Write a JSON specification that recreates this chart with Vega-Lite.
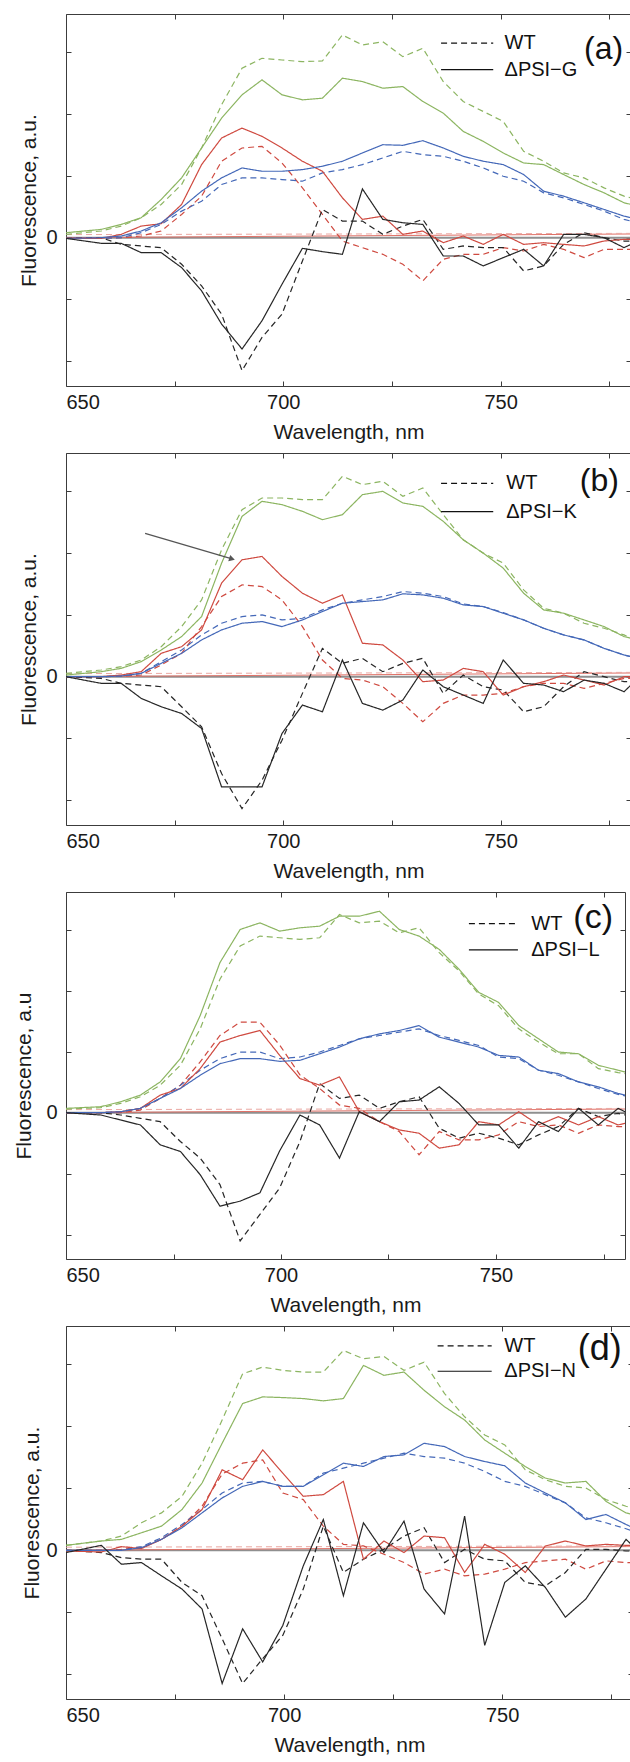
{
"$schema": "https://vega.github.io/schema/vega-lite/v6.json",
"padding": {"left": 12, "top": 13, "right": 0, "bottom": 0},
"spacing": 9,
"background": "white",
"config": {
 "font": "Liberation Sans",
 "view": {"stroke": "#3c3c3c", "strokeWidth": 1},
 "axis": {"grid": false, "domain": false, "tickSize": -5, "tickColor": "#3c3c3c", "tickWidth": 1, "labelFont": "Liberation Sans", "labelFontSize": 20, "labelColor": "#1a1a1a", "titleFont": "Liberation Sans", "titleFontSize": 21, "titleFontWeight": "normal", "titleColor": "#1a1a1a"},
 "text": {"font": "Liberation Sans"}
},
"datasets": {
 "base": [
  {"c": "zr", "t": "M", "x": 650, "y": 0.0},
  {"c": "zr", "t": "M", "x": 780, "y": 0.06},
  {"c": "zp", "t": "W", "x": 650, "y": 0.05},
  {"c": "zp", "t": "W", "x": 780, "y": 0.07}
 ],
 "curves": [
  {"p":"a","t":"W","x":[650,658.1,662.7,667.3,671.9,676.6,681.2,685.8,690.5,695.1,699.7,704.4,709,713.6,718.2,722.9,727.5,732.1,736.8,741.4,746,750.6,755.3,759.9,764.5,769.2,773.8,778.4,780],
   "g":[0.054,0.108,0.188,0.323,0.538,0.860,1.452,2.151,2.742,2.903,2.876,2.849,2.860,3.280,3.118,3.172,2.930,3.065,2.527,2.204,2.043,1.882,1.398,1.237,1.048,0.968,0.806,0.672,0.645],
   "r":[-0.011,-0.011,0,0.027,0.108,0.376,0.672,1.237,1.452,1.478,1.210,0.806,0.376,-0.054,-0.161,-0.269,-0.430,-0.699,-0.349,-0.269,-0.269,-0.161,-0.215,-0.108,-0.188,-0.323,-0.188,-0.188,-0.188],
   "b":[-0.011,-0.011,0,0.081,0.215,0.430,0.591,0.860,0.968,0.968,0.941,0.914,1.048,1.102,1.183,1.290,1.398,1.344,1.317,1.237,1.129,0.995,0.914,0.726,0.645,0.538,0.430,0.296,0.269],
   "k":[-0.011,0,-0.108,-0.134,-0.161,-0.430,-0.780,-1.237,-2.151,-1.613,-1.237,-0.376,0.457,0.269,0.269,0.054,0.188,0.296,-0.188,-0.134,-0.161,-0.161,-0.538,-0.457,-0.108,0.081,0,-0.054,-0.054]},
  {"p":"a","t":"M","x":[650,658.1,662.7,667.3,671.9,676.6,681.2,685.8,690.5,695.1,699.7,704.4,709,713.6,718.2,722.9,727.5,732.1,736.8,741.4,746,750.6,755.3,759.9,764.5,769.2,773.8,778.4,780],
   "g":[0.081,0.134,0.215,0.323,0.618,0.968,1.452,1.935,2.312,2.554,2.312,2.231,2.258,2.581,2.527,2.419,2.446,2.204,2.016,1.720,1.559,1.371,1.209,1.183,1.022,0.860,0.726,0.565,0.538],
   "r":[-0.011,-0.011,0.054,0.188,0.226,0.538,1.183,1.613,1.774,1.640,1.452,1.237,1.075,0.645,0.296,0.349,0.054,0.108,-0.081,0.027,-0.108,0.054,-0.108,-0.081,-0.108,-0.134,-0.054,-0.027,-0.027],
   "b":[-0.011,0,0.027,0.108,0.242,0.484,0.753,0.968,1.129,1.075,1.075,1.102,1.156,1.237,1.371,1.505,1.495,1.570,1.452,1.317,1.237,1.183,1.022,0.753,0.672,0.565,0.457,0.349,0.323],
   "k":[-0.011,-0.091,-0.091,-0.242,-0.242,-0.484,-0.860,-1.398,-1.801,-1.344,-0.753,-0.172,-0.226,-0.269,0.790,0.296,0.242,0.215,-0.296,-0.296,-0.457,-0.323,-0.188,-0.457,0.054,0.054,0,-0.161,-0.108]},
  {"p":"b","t":"W","x":[650,658.1,662.7,667.3,671.9,676.6,681.2,685.8,690.5,695.1,699.7,704.4,709,713.6,718.2,722.9,727.5,732.1,736.8,741.4,746,750.6,755.3,759.9,764.5,769.2,773.8,778.4,780],
   "g":[0.054,0.108,0.162,0.270,0.486,0.811,1.243,2.054,2.703,2.892,2.892,2.865,2.865,3.243,3.108,3.162,2.919,3.054,2.622,2.216,2.000,1.838,1.405,1.108,1.027,0.865,0.784,0.676,0.622],
   "r":[0,0,0.011,0.027,0.189,0.378,0.811,1.297,1.486,1.459,1.243,0.811,0.270,-0.027,-0.054,-0.162,-0.432,-0.730,-0.432,-0.297,-0.297,-0.270,-0.162,-0.108,-0.108,-0.189,-0.108,-0.027,-0.027],
   "b":[0,0,0.011,0.054,0.243,0.432,0.676,0.865,0.973,1.000,0.919,0.946,1.081,1.189,1.243,1.297,1.378,1.351,1.297,1.178,1.135,1.038,0.919,0.784,0.676,0.595,0.459,0.351,0.324],
   "k":[0,-0.027,-0.108,-0.135,-0.162,-0.486,-0.811,-1.568,-2.135,-1.676,-1.027,-0.270,0.459,0.216,0.297,0.081,0.216,0.297,-0.270,0.027,-0.162,-0.216,-0.568,-0.486,-0.162,0.081,0,-0.081,-0.081]},
  {"p":"b","t":"M","x":[650,658.1,662.7,667.3,671.9,676.6,681.2,685.8,690.5,695.1,699.7,704.4,709,713.6,718.2,722.9,727.5,732.1,736.8,741.4,746,750.6,755.3,759.9,764.5,769.2,773.8,778.4,780],
   "g":[0.027,0.081,0.135,0.243,0.432,0.649,0.973,1.838,2.595,2.838,2.784,2.676,2.541,2.622,2.946,3.000,2.811,2.757,2.514,2.216,2.000,1.757,1.351,1.081,1.027,0.919,0.811,0.649,0.622],
   "r":[0,0,0.027,0.081,0.378,0.486,0.757,1.514,1.892,1.946,1.622,1.351,1.189,1.324,0.541,0.514,0.270,-0.081,-0.054,0.135,0.081,-0.297,-0.162,-0.081,0.027,-0.054,-0.135,0,0],
   "b":[0,0,0.011,0.054,0.216,0.378,0.595,0.757,0.865,0.892,0.811,0.919,1.054,1.189,1.216,1.243,1.341,1.324,1.270,1.162,1.135,1.027,0.919,0.784,0.676,0.595,0.459,0.351,0.324],
   "k":[0,-0.108,-0.108,-0.351,-0.486,-0.595,-0.838,-1.784,-1.784,-1.784,-0.919,-0.459,-0.568,0.270,-0.432,-0.541,-0.378,0.108,-0.162,-0.297,-0.432,0.270,-0.108,-0.135,-0.243,-0.054,-0.108,-0.243,-0.135]},
  {"p":"c","t":"W","x":[650,658.1,662.7,667.3,671.9,676.6,681.2,685.8,690.5,695.1,699.7,704.4,709,713.6,718.2,722.9,727.5,732.1,736.8,741.4,746,750.6,755.3,759.9,764.5,769.2,773.8,778.4,780],
   "g":[0.060,0.082,0.152,0.261,0.451,0.777,1.375,2.190,2.734,2.897,2.870,2.842,2.870,3.250,3.114,3.141,2.951,3.033,2.625,2.326,1.946,1.755,1.375,1.158,0.967,0.967,0.723,0.658,0.641],
   "r":[0,0,0,0.043,0.234,0.451,0.832,1.266,1.484,1.484,1.109,0.620,0.397,0.125,0.071,-0.147,-0.310,-0.690,-0.310,-0.446,-0.446,-0.364,-0.147,-0.228,-0.201,-0.337,-0.201,-0.228,-0.228],
   "b":[0,0,0.016,0.071,0.234,0.451,0.696,0.886,0.995,0.995,0.886,0.913,0.995,1.103,1.212,1.266,1.321,1.375,1.266,1.185,1.103,0.913,0.886,0.696,0.614,0.505,0.397,0.299,0.277],
   "k":[0,0,-0.038,-0.092,-0.147,-0.473,-0.745,-1.179,-2.103,-1.668,-1.234,-0.473,0.478,0.234,0.288,0.071,0.179,0.261,-0.255,-0.418,-0.337,-0.418,-0.527,-0.364,-0.228,0.071,-0.065,-0.011,-0.038]},
  {"p":"c","t":"M","x":[650,658.1,662.7,667.3,671.9,676.6,681.2,685.8,690.5,695.1,699.7,704.4,709,713.6,718.2,722.9,727.5,732.1,736.8,741.4,746,750.6,755.3,759.9,764.5,769.2,773.8,778.4,780],
   "g":[0.071,0.098,0.179,0.288,0.505,0.886,1.592,2.462,3.005,3.114,2.978,3.033,3.060,3.223,3.223,3.304,3.005,2.897,2.679,2.353,1.973,1.810,1.429,1.212,0.995,0.967,0.777,0.696,0.668],
   "r":[0,0,0.016,0.071,0.288,0.397,0.723,1.158,1.266,1.348,0.940,0.560,0.452,0.587,0.016,-0.147,-0.283,-0.337,-0.582,-0.527,-0.147,-0.201,0.016,-0.201,-0.065,-0.201,-0.065,-0.201,-0.174],
   "b":[0,0,0.016,0.071,0.234,0.397,0.614,0.804,0.886,0.886,0.842,0.859,0.967,1.076,1.212,1.293,1.348,1.429,1.239,1.158,1.076,0.940,0.913,0.696,0.641,0.505,0.424,0.315,0.288],
   "k":[0,-0.038,-0.120,-0.201,-0.527,-0.636,-1.016,-1.533,-1.451,-1.315,-0.625,-0.038,-0.201,-0.745,0.016,-0.147,0.179,0.207,0.424,0.152,-0.201,-0.201,-0.582,-0.147,-0.310,0.071,-0.201,0.071,0.016]},
  {"p":"d","t":"W","x":[650,658.1,662.7,667.3,671.9,676.6,681.2,685.8,690.5,695.1,699.7,704.4,709,713.6,718.2,722.9,727.5,732.1,736.8,741.4,746,750.6,755.3,759.9,764.5,769.2,773.8,778.4,780],
   "g":[0.080,0.150,0.230,0.444,0.604,0.872,1.406,2.102,2.850,2.957,2.904,2.877,2.877,3.225,3.091,3.128,2.904,3.037,2.529,2.155,1.861,1.701,1.299,1.139,1.032,1.005,0.818,0.711,0.684],
   "r":[0,0,0.016,0.043,0.176,0.390,0.711,1.230,1.406,1.460,0.925,0.818,0.390,0.096,0.070,-0.064,-0.198,-0.385,-0.305,-0.412,-0.385,-0.305,-0.198,-0.171,-0.144,-0.305,-0.171,-0.198,-0.198],
   "b":[0,0,0,0.059,0.203,0.417,0.658,0.925,1.086,1.112,1.032,1.032,1.246,1.326,1.406,1.487,1.567,1.513,1.487,1.406,1.273,1.112,1.032,0.898,0.765,0.524,0.444,0.348,0.310],
   "k":[0,-0.037,-0.118,-0.144,-0.144,-0.519,-0.733,-1.428,-2.150,-1.749,-1.374,-0.626,0.390,-0.358,-0.144,0.016,0.230,0.364,-0.198,0.016,-0.144,-0.171,-0.519,-0.573,-0.358,0.016,0.016,-0.011,-0.011]},
  {"p":"d","t":"M","x":[650,658.1,662.7,667.3,671.9,676.6,681.2,685.8,690.5,695.1,699.7,704.4,709,713.6,718.2,722.9,727.5,732.1,736.8,741.4,746,750.6,755.3,759.9,764.5,769.2,773.8,778.4,780],
   "g":[0.080,0.150,0.176,0.283,0.390,0.658,1.086,1.727,2.369,2.476,2.465,2.449,2.412,2.449,2.984,2.824,2.877,2.583,2.316,2.102,1.781,1.567,1.353,1.166,1.086,1.112,0.791,0.604,0.578],
   "r":[-0.011,-0.027,0.059,0.027,0.176,0.390,0.658,1.299,1.139,1.620,1.246,0.872,0.898,1.112,-0.144,0.150,-0.037,0.230,0.203,-0.358,0.096,-0.064,-0.358,0.070,0.150,0.070,0.096,0.080,0.080],
   "b":[0,0,0,0.043,0.176,0.364,0.604,0.845,1.032,1.112,1.032,1.032,1.219,1.406,1.353,1.513,1.540,1.727,1.674,1.513,1.433,1.364,1.086,0.925,0.765,0.497,0.578,0.417,0.364],
   "k":[-0.037,0.080,-0.225,-0.198,-0.412,-0.626,-0.947,-2.150,-1.267,-1.802,-1.214,-0.251,0.497,-0.733,0.444,-0.037,0.471,-0.626,-1.027,0.551,-1.535,-0.519,-0.251,-0.599,-1.080,-0.786,-0.305,0.176,0.070]}
 ]
},
"vconcat": [
 {
  "width": 565, "height": 372,
  "resolve": {"axis": {"x": "independent", "y": "independent"}},
  "layer": [
   {"data": {"values": [{}]}, "mark": {"type": "rule", "color": "#8f8f8f", "strokeWidth": 2},
    "encoding": {"y": {"datum": 0, "type": "quantitative", "scale": {"domain": [-2.4, 3.62], "nice": false}, "axis": null}}},
   {"data": {"name": "base"}, "mark": {"type": "line", "strokeWidth": 1, "clip": true},
    "encoding": {
     "x": {"field": "x", "type": "quantitative", "scale": {"domain": [650, 780], "nice": false}, "axis": {"orient": "top", "values": [650, 675, 700, 725, 750, 775], "labels": false, "title": null, "minExtent": 0}},
     "y": {"field": "y", "type": "quantitative", "scale": {"domain": [-2.4, 3.62], "nice": false}, "axis": {"orient": "right", "values": [-2, -1, 0, 1, 2, 3], "labels": false, "title": null, "minExtent": 0}},
     "color": {"field": "c", "type": "nominal", "scale": {"domain": ["g", "r", "b", "k", "zr", "zp"], "range": ["#8cb561", "#cf4a40", "#4468b8", "#262626", "#e07066", "#eba8a2"]}, "legend": null},
     "strokeDash": {"field": "t", "type": "nominal", "scale": {"domain": ["W", "M"], "range": [[6, 4], [1, 0]]}, "legend": null}}},
   {"data": {"name": "curves"},
    "transform": [{"filter": "datum.p === 'a'"}, {"flatten": ["x", "g", "r", "b", "k"]}, {"fold": ["g", "r", "b", "k"], "as": ["c", "y"]}],
    "mark": {"type": "line", "strokeWidth": 1.2, "clip": true},
    "encoding": {
     "x": {"field": "x", "type": "quantitative", "scale": {"domain": [650, 780], "nice": false}, "axis": {"orient": "bottom", "values": [650, 675, 700, 725, 750, 775], "labelExpr": "datum.value % 50 === 0 ? datum.label : ''", "title": "Wavelength, nm", "labelPadding": 11, "titlePadding": 9}},
     "y": {"field": "y", "type": "quantitative", "scale": {"domain": [-2.4, 3.62], "nice": false}, "axis": {"orient": "left", "values": [-2, -1, 0, 1, 2, 3], "labelExpr": "datum.value === 0 ? '0' : ''", "title": "Fluorescence, a.u.", "labelPadding": 14, "titlePadding": 6, "minExtent": 0}},
     "color": {"field": "c", "type": "nominal", "scale": {"domain": ["g", "r", "b", "k", "zr", "zp"], "range": ["#8cb561", "#cf4a40", "#4468b8", "#262626", "#e07066", "#eba8a2"]}, "legend": null},
     "strokeDash": {"field": "t", "type": "nominal", "scale": {"domain": ["W", "M"], "range": [[6, 4], [1, 0]]}, "legend": null}}},
   {"data": {"values": [{}]}, "mark": {"type": "rule", "color": "#111111", "strokeWidth": 1.2, "strokeDash": [6, 4]},
    "encoding": {"x": {"datum": 736.3, "type": "quantitative", "scale": {"domain": [650, 780], "nice": false}, "axis": null}, "x2": {"datum": 748.3}, "y": {"datum": 3.15, "type": "quantitative", "scale": {"domain": [-2.4, 3.62], "nice": false}, "axis": null}}},
   {"data": {"values": [{}]}, "mark": {"type": "rule", "color": "#111111", "strokeWidth": 1.2},
    "encoding": {"x": {"datum": 736.3, "type": "quantitative", "scale": {"domain": [650, 780], "nice": false}, "axis": null}, "x2": {"datum": 748.3}, "y": {"datum": 2.72, "type": "quantitative", "scale": {"domain": [-2.4, 3.62], "nice": false}, "axis": null}}},
   {"data": {"values": [{}]}, "mark": {"type": "text", "align": "left", "baseline": "middle", "fontSize": 20, "color": "#111111"},
    "encoding": {"x": {"datum": 750.9, "type": "quantitative", "scale": {"domain": [650, 780], "nice": false}, "axis": null}, "y": {"datum": 3.15, "type": "quantitative", "scale": {"domain": [-2.4, 3.62], "nice": false}, "axis": null}, "text": {"value": "WT"}}},
   {"data": {"values": [{}]}, "mark": {"type": "text", "align": "left", "baseline": "middle", "fontSize": 20, "color": "#111111"},
    "encoding": {"x": {"datum": 750.9, "type": "quantitative", "scale": {"domain": [650, 780], "nice": false}, "axis": null}, "y": {"datum": 2.72, "type": "quantitative", "scale": {"domain": [-2.4, 3.62], "nice": false}, "axis": null}, "text": {"value": "ΔPSI−G"}}},
   {"data": {"values": [{}]}, "mark": {"type": "text", "align": "center", "baseline": "middle", "fontSize": 32, "color": "#111111"},
    "encoding": {"x": {"datum": 773.7, "type": "quantitative", "scale": {"domain": [650, 780], "nice": false}, "axis": null}, "y": {"datum": 3.05, "type": "quantitative", "scale": {"domain": [-2.4, 3.62], "nice": false}, "axis": null}, "text": {"value": "(a)"}}}
  ]
 },
 {
  "width": 565, "height": 372,
  "resolve": {"axis": {"x": "independent", "y": "independent"}},
  "layer": [
   {"data": {"values": [{}]}, "mark": {"type": "rule", "color": "#8f8f8f", "strokeWidth": 2},
    "encoding": {"y": {"datum": 0, "type": "quantitative", "scale": {"domain": [-2.4, 3.62], "nice": false}, "axis": null}}},
   {"data": {"name": "base"}, "mark": {"type": "line", "strokeWidth": 1, "clip": true},
    "encoding": {
     "x": {"field": "x", "type": "quantitative", "scale": {"domain": [650, 780], "nice": false}, "axis": {"orient": "top", "values": [650, 675, 700, 725, 750, 775], "labels": false, "title": null, "minExtent": 0}},
     "y": {"field": "y", "type": "quantitative", "scale": {"domain": [-2.4, 3.62], "nice": false}, "axis": {"orient": "right", "values": [-2, -1, 0, 1, 2, 3], "labels": false, "title": null, "minExtent": 0}},
     "color": {"field": "c", "type": "nominal", "scale": {"domain": ["g", "r", "b", "k", "zr", "zp"], "range": ["#8cb561", "#cf4a40", "#4468b8", "#262626", "#e07066", "#eba8a2"]}, "legend": null},
     "strokeDash": {"field": "t", "type": "nominal", "scale": {"domain": ["W", "M"], "range": [[6, 4], [1, 0]]}, "legend": null}}},
   {"data": {"name": "curves"},
    "transform": [{"filter": "datum.p === 'b'"}, {"flatten": ["x", "g", "r", "b", "k"]}, {"fold": ["g", "r", "b", "k"], "as": ["c", "y"]}],
    "mark": {"type": "line", "strokeWidth": 1.2, "clip": true},
    "encoding": {
     "x": {"field": "x", "type": "quantitative", "scale": {"domain": [650, 780], "nice": false}, "axis": {"orient": "bottom", "values": [650, 675, 700, 725, 750, 775], "labelExpr": "datum.value % 50 === 0 ? datum.label : ''", "title": "Wavelength, nm", "labelPadding": 11, "titlePadding": 9}},
     "y": {"field": "y", "type": "quantitative", "scale": {"domain": [-2.4, 3.62], "nice": false}, "axis": {"orient": "left", "values": [-2, -1, 0, 1, 2, 3], "labelExpr": "datum.value === 0 ? '0' : ''", "title": "Fluorescence, a.u.", "labelPadding": 14, "titlePadding": 6, "minExtent": 0}},
     "color": {"field": "c", "type": "nominal", "scale": {"domain": ["g", "r", "b", "k", "zr", "zp"], "range": ["#8cb561", "#cf4a40", "#4468b8", "#262626", "#e07066", "#eba8a2"]}, "legend": null},
     "strokeDash": {"field": "t", "type": "nominal", "scale": {"domain": ["W", "M"], "range": [[6, 4], [1, 0]]}, "legend": null}}},
   {"data": {"values": [{}]}, "mark": {"type": "rule", "color": "#555555", "strokeWidth": 1.2},
    "encoding": {"x": {"datum": 668.2, "type": "quantitative", "scale": {"domain": [650, 780], "nice": false}, "axis": null}, "x2": {"datum": 688.0}, "y": {"datum": 2.32, "type": "quantitative", "scale": {"domain": [-2.4, 3.62], "nice": false}, "axis": null}, "y2": {"datum": 1.91}}},
   {"data": {"values": [{}]}, "mark": {"type": "point", "shape": "triangle-right", "filled": true, "size": 45, "angle": 17, "color": "#555555", "opacity": 1},
    "encoding": {"x": {"datum": 688.2, "type": "quantitative", "scale": {"domain": [650, 780], "nice": false}, "axis": null}, "y": {"datum": 1.905, "type": "quantitative", "scale": {"domain": [-2.4, 3.62], "nice": false}, "axis": null}}},
   {"data": {"values": [{}]}, "mark": {"type": "rule", "color": "#111111", "strokeWidth": 1.2, "strokeDash": [6, 4]},
    "encoding": {"x": {"datum": 736.3, "type": "quantitative", "scale": {"domain": [650, 780], "nice": false}, "axis": null}, "x2": {"datum": 748.3}, "y": {"datum": 3.13, "type": "quantitative", "scale": {"domain": [-2.4, 3.62], "nice": false}, "axis": null}}},
   {"data": {"values": [{}]}, "mark": {"type": "rule", "color": "#111111", "strokeWidth": 1.2},
    "encoding": {"x": {"datum": 736.3, "type": "quantitative", "scale": {"domain": [650, 780], "nice": false}, "axis": null}, "x2": {"datum": 748.3}, "y": {"datum": 2.67, "type": "quantitative", "scale": {"domain": [-2.4, 3.62], "nice": false}, "axis": null}}},
   {"data": {"values": [{}]}, "mark": {"type": "text", "align": "left", "baseline": "middle", "fontSize": 20, "color": "#111111"},
    "encoding": {"x": {"datum": 751.3, "type": "quantitative", "scale": {"domain": [650, 780], "nice": false}, "axis": null}, "y": {"datum": 3.13, "type": "quantitative", "scale": {"domain": [-2.4, 3.62], "nice": false}, "axis": null}, "text": {"value": "WT"}}},
   {"data": {"values": [{}]}, "mark": {"type": "text", "align": "left", "baseline": "middle", "fontSize": 20, "color": "#111111"},
    "encoding": {"x": {"datum": 751.3, "type": "quantitative", "scale": {"domain": [650, 780], "nice": false}, "axis": null}, "y": {"datum": 2.67, "type": "quantitative", "scale": {"domain": [-2.4, 3.62], "nice": false}, "axis": null}, "text": {"value": "ΔPSI−K"}}},
   {"data": {"values": [{}]}, "mark": {"type": "text", "align": "center", "baseline": "middle", "fontSize": 32, "color": "#111111"},
    "encoding": {"x": {"datum": 772.7, "type": "quantitative", "scale": {"domain": [650, 780], "nice": false}, "axis": null}, "y": {"datum": 3.16, "type": "quantitative", "scale": {"domain": [-2.4, 3.62], "nice": false}, "axis": null}, "text": {"value": "(b)"}}}
  ]
 },
 {
  "width": 559, "height": 367,
  "resolve": {"axis": {"x": "independent", "y": "independent"}},
  "layer": [
   {"data": {"values": [{}]}, "mark": {"type": "rule", "color": "#8f8f8f", "strokeWidth": 2},
    "encoding": {"y": {"datum": 0, "type": "quantitative", "scale": {"domain": [-2.4, 3.62], "nice": false}, "axis": null}}},
   {"data": {"name": "base"}, "mark": {"type": "line", "strokeWidth": 1, "clip": true},
    "encoding": {
     "x": {"field": "x", "type": "quantitative", "scale": {"domain": [650, 780], "nice": false}, "axis": {"orient": "top", "values": [650, 675, 700, 725, 750, 775], "labels": false, "title": null, "minExtent": 0}},
     "y": {"field": "y", "type": "quantitative", "scale": {"domain": [-2.4, 3.62], "nice": false}, "axis": {"orient": "right", "values": [-2, -1, 0, 1, 2, 3], "labels": false, "title": null, "minExtent": 0}},
     "color": {"field": "c", "type": "nominal", "scale": {"domain": ["g", "r", "b", "k", "zr", "zp"], "range": ["#8cb561", "#cf4a40", "#4468b8", "#262626", "#e07066", "#eba8a2"]}, "legend": null},
     "strokeDash": {"field": "t", "type": "nominal", "scale": {"domain": ["W", "M"], "range": [[6, 4], [1, 0]]}, "legend": null}}},
   {"data": {"name": "curves"},
    "transform": [{"filter": "datum.p === 'c'"}, {"flatten": ["x", "g", "r", "b", "k"]}, {"fold": ["g", "r", "b", "k"], "as": ["c", "y"]}],
    "mark": {"type": "line", "strokeWidth": 1.2, "clip": true},
    "encoding": {
     "x": {"field": "x", "type": "quantitative", "scale": {"domain": [650, 780], "nice": false}, "axis": {"orient": "bottom", "values": [650, 675, 700, 725, 750, 775], "labelExpr": "datum.value % 50 === 0 ? datum.label : ''", "title": "Wavelength, nm", "labelPadding": 11, "titlePadding": 9}},
     "y": {"field": "y", "type": "quantitative", "scale": {"domain": [-2.4, 3.62], "nice": false}, "axis": {"orient": "left", "values": [-2, -1, 0, 1, 2, 3], "labelExpr": "datum.value === 0 ? '0' : ''", "title": "Fluorescence, a.u", "labelPadding": 14, "titlePadding": 11.5, "minExtent": 0}},
     "color": {"field": "c", "type": "nominal", "scale": {"domain": ["g", "r", "b", "k", "zr", "zp"], "range": ["#8cb561", "#cf4a40", "#4468b8", "#262626", "#e07066", "#eba8a2"]}, "legend": null},
     "strokeDash": {"field": "t", "type": "nominal", "scale": {"domain": ["W", "M"], "range": [[6, 4], [1, 0]]}, "legend": null}}},
   {"data": {"values": [{}]}, "mark": {"type": "rule", "color": "#111111", "strokeWidth": 1.2, "strokeDash": [6, 4]},
    "encoding": {"x": {"datum": 743.7, "type": "quantitative", "scale": {"domain": [650, 780], "nice": false}, "axis": null}, "x2": {"datum": 755.1}, "y": {"datum": 3.10, "type": "quantitative", "scale": {"domain": [-2.4, 3.62], "nice": false}, "axis": null}}},
   {"data": {"values": [{}]}, "mark": {"type": "rule", "color": "#111111", "strokeWidth": 1.2},
    "encoding": {"x": {"datum": 743.7, "type": "quantitative", "scale": {"domain": [650, 780], "nice": false}, "axis": null}, "x2": {"datum": 755.1}, "y": {"datum": 2.67, "type": "quantitative", "scale": {"domain": [-2.4, 3.62], "nice": false}, "axis": null}}},
   {"data": {"values": [{}]}, "mark": {"type": "text", "align": "left", "baseline": "middle", "fontSize": 20, "color": "#111111"},
    "encoding": {"x": {"datum": 758.2, "type": "quantitative", "scale": {"domain": [650, 780], "nice": false}, "axis": null}, "y": {"datum": 3.10, "type": "quantitative", "scale": {"domain": [-2.4, 3.62], "nice": false}, "axis": null}, "text": {"value": "WT"}}},
   {"data": {"values": [{}]}, "mark": {"type": "text", "align": "left", "baseline": "middle", "fontSize": 20, "color": "#111111"},
    "encoding": {"x": {"datum": 758.2, "type": "quantitative", "scale": {"domain": [650, 780], "nice": false}, "axis": null}, "y": {"datum": 2.67, "type": "quantitative", "scale": {"domain": [-2.4, 3.62], "nice": false}, "axis": null}, "text": {"value": "ΔPSI−L"}}},
   {"data": {"values": [{}]}, "mark": {"type": "text", "align": "center", "baseline": "middle", "fontSize": 34, "color": "#111111"},
    "encoding": {"x": {"datum": 772.6, "type": "quantitative", "scale": {"domain": [650, 780], "nice": false}, "axis": null}, "y": {"datum": 3.19, "type": "quantitative", "scale": {"domain": [-2.4, 3.62], "nice": false}, "axis": null}, "text": {"value": "(c)"}}}
  ]
 },
 {
  "width": 567, "height": 373,
  "resolve": {"axis": {"x": "independent", "y": "independent"}},
  "layer": [
   {"data": {"values": [{}]}, "mark": {"type": "rule", "color": "#8f8f8f", "strokeWidth": 2},
    "encoding": {"y": {"datum": 0, "type": "quantitative", "scale": {"domain": [-2.4, 3.62], "nice": false}, "axis": null}}},
   {"data": {"name": "base"}, "mark": {"type": "line", "strokeWidth": 1, "clip": true},
    "encoding": {
     "x": {"field": "x", "type": "quantitative", "scale": {"domain": [650, 780], "nice": false}, "axis": {"orient": "top", "values": [650, 675, 700, 725, 750, 775], "labels": false, "title": null, "minExtent": 0}},
     "y": {"field": "y", "type": "quantitative", "scale": {"domain": [-2.4, 3.62], "nice": false}, "axis": {"orient": "right", "values": [-2, -1, 0, 1, 2, 3], "labels": false, "title": null, "minExtent": 0}},
     "color": {"field": "c", "type": "nominal", "scale": {"domain": ["g", "r", "b", "k", "zr", "zp"], "range": ["#8cb561", "#cf4a40", "#4468b8", "#262626", "#e07066", "#eba8a2"]}, "legend": null},
     "strokeDash": {"field": "t", "type": "nominal", "scale": {"domain": ["W", "M"], "range": [[6, 4], [1, 0]]}, "legend": null}}},
   {"data": {"name": "curves"},
    "transform": [{"filter": "datum.p === 'd'"}, {"flatten": ["x", "g", "r", "b", "k"]}, {"fold": ["g", "r", "b", "k"], "as": ["c", "y"]}],
    "mark": {"type": "line", "strokeWidth": 1.2, "clip": true},
    "encoding": {
     "x": {"field": "x", "type": "quantitative", "scale": {"domain": [650, 780], "nice": false}, "axis": {"orient": "bottom", "values": [650, 675, 700, 725, 750, 775], "labelExpr": "datum.value % 50 === 0 ? datum.label : ''", "title": "Wavelength, nm", "labelPadding": 11, "titlePadding": 9}},
     "y": {"field": "y", "type": "quantitative", "scale": {"domain": [-2.4, 3.62], "nice": false}, "axis": {"orient": "left", "values": [-2, -1, 0, 1, 2, 3], "labelExpr": "datum.value === 0 ? '0' : ''", "title": "Fluorescence, a.u.", "labelPadding": 14, "titlePadding": 3.5, "minExtent": 0}},
     "color": {"field": "c", "type": "nominal", "scale": {"domain": ["g", "r", "b", "k", "zr", "zp"], "range": ["#8cb561", "#cf4a40", "#4468b8", "#262626", "#e07066", "#eba8a2"]}, "legend": null},
     "strokeDash": {"field": "t", "type": "nominal", "scale": {"domain": ["W", "M"], "range": [[6, 4], [1, 0]]}, "legend": null}}},
   {"data": {"values": [{}]}, "mark": {"type": "rule", "color": "#111111", "strokeWidth": 1.2, "strokeDash": [6, 4]},
    "encoding": {"x": {"datum": 735.2, "type": "quantitative", "scale": {"domain": [650, 780], "nice": false}, "axis": null}, "x2": {"datum": 747.6}, "y": {"datum": 3.30, "type": "quantitative", "scale": {"domain": [-2.4, 3.62], "nice": false}, "axis": null}}},
   {"data": {"values": [{}]}, "mark": {"type": "rule", "color": "#111111", "strokeWidth": 1.2},
    "encoding": {"x": {"datum": 735.2, "type": "quantitative", "scale": {"domain": [650, 780], "nice": false}, "axis": null}, "x2": {"datum": 747.6}, "y": {"datum": 2.89, "type": "quantitative", "scale": {"domain": [-2.4, 3.62], "nice": false}, "axis": null}}},
   {"data": {"values": [{}]}, "mark": {"type": "text", "align": "left", "baseline": "middle", "fontSize": 20, "color": "#111111"},
    "encoding": {"x": {"datum": 750.5, "type": "quantitative", "scale": {"domain": [650, 780], "nice": false}, "axis": null}, "y": {"datum": 3.30, "type": "quantitative", "scale": {"domain": [-2.4, 3.62], "nice": false}, "axis": null}, "text": {"value": "WT"}}},
   {"data": {"values": [{}]}, "mark": {"type": "text", "align": "left", "baseline": "middle", "fontSize": 20, "color": "#111111"},
    "encoding": {"x": {"datum": 750.5, "type": "quantitative", "scale": {"domain": [650, 780], "nice": false}, "axis": null}, "y": {"datum": 2.89, "type": "quantitative", "scale": {"domain": [-2.4, 3.62], "nice": false}, "axis": null}, "text": {"value": "ΔPSI−N"}}},
   {"data": {"values": [{}]}, "mark": {"type": "text", "align": "center", "baseline": "middle", "fontSize": 36, "color": "#111111"},
    "encoding": {"x": {"datum": 772.4, "type": "quantitative", "scale": {"domain": [650, 780], "nice": false}, "axis": null}, "y": {"datum": 3.25, "type": "quantitative", "scale": {"domain": [-2.4, 3.62], "nice": false}, "axis": null}, "text": {"value": "(d)"}}}
  ]
 }
]
}
